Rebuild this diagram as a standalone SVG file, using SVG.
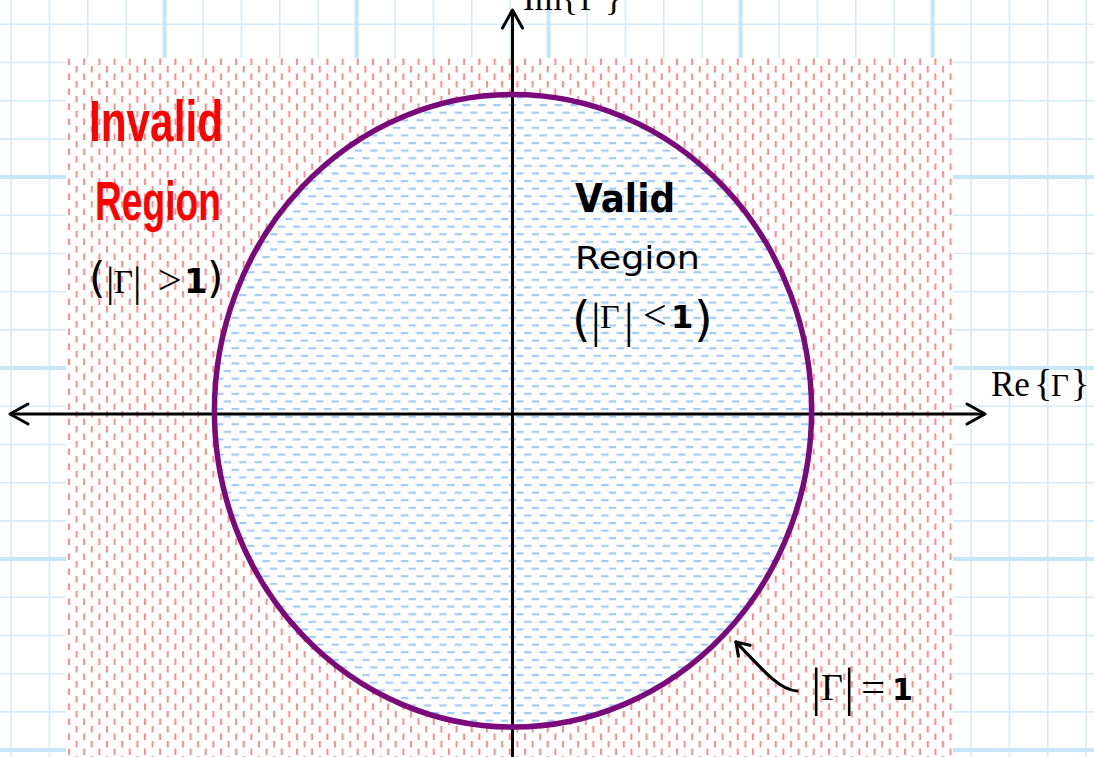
<svg xmlns="http://www.w3.org/2000/svg" width="1094" height="757" viewBox="0 0 1094 757">
<style>
.gthin{stroke:#d3ebfb;stroke-width:1.6;fill:none}
.gthick{stroke:#c8e6fa;stroke-width:4;fill:none}
.axis{stroke:#000;stroke-width:3;fill:none}
.serif{font-family:"Liberation Serif","Times New Roman",serif;fill:#000}
.sans{font-family:"DejaVu Sans","Liberation Sans",sans-serif;fill:#000}
.red{font-family:"Liberation Sans",Arial,sans-serif;font-weight:bold;fill:#ff0000}
</style>
<defs>
<pattern id="pinkDash" patternUnits="userSpaceOnUse" x="68" y="58" width="15.2" height="15">
<path d="M1 0.5 V7 M8.6 8 V14.5" stroke="#ff8c8c" stroke-width="2" fill="none"/>
</pattern>
<pattern id="blueDash" patternUnits="userSpaceOnUse" x="0" y="12.8" width="15.4" height="15.2">
<path d="M0.5 1 H8 M8.2 8.6 H15.4" stroke="#9ecbf5" stroke-width="2.2" fill="none"/>
</pattern>
<marker id="arrowOpen" markerUnits="userSpaceOnUse" viewBox="-22 -13 26 26" markerWidth="26" markerHeight="26" refX="0" refY="0" orient="auto-start-reverse">
<path d="M-18,-10 L0,0 L-18,10" stroke="#000" stroke-width="3" fill="none" stroke-linecap="round" stroke-linejoin="round"/>
</marker>
<marker id="arrowSmall" markerUnits="userSpaceOnUse" viewBox="-16 -11 20 22" markerWidth="20" markerHeight="22" refX="0" refY="0" orient="auto">
<path d="M-12,-8 L0,0 L-12,8" stroke="#000" stroke-width="3.2" fill="none" stroke-linecap="round" stroke-linejoin="round"/>
</marker>
</defs>

<rect width="1094" height="757" fill="#ffffff"/>

<g id="grid">
<path class="gthin" d="M11 0V757 M49.4 0V757 M87.8 0V757 M126.2 0V757 M203 0V757 M241.4 0V757 M279.8 0V757 M318.2 0V757 M395 0V757 M433.4 0V757 M471.8 0V757 M510.2 0V757 M587 0V757 M625.4 0V757 M663.8 0V757 M702.2 0V757 M779 0V757 M817.4 0V757 M855.8 0V757 M894.2 0V757 M971 0V757 M1009.4 0V757 M1047.8 0V757 M1086.2 0V757 M0 24.3H1094 M0 62.5H1094 M0 100.7H1094 M0 138.9H1094 M0 215.3H1094 M0 253.5H1094 M0 291.7H1094 M0 329.9H1094 M0 406.3H1094 M0 444.5H1094 M0 482.7H1094 M0 520.9H1094 M0 597.3H1094 M0 635.5H1094 M0 673.7H1094 M0 711.9H1094"/>
<path class="gthick" d="M164.6 0V757 M356.6 0V757 M548.6 0V757 M740.6 0V757 M932.6 0V757 M0 177.1H1094 M0 368.1H1094 M0 559.1H1094 M0 750.1H1094"/>
</g>

<g id="invalid-region">
<rect x="66" y="58" width="887" height="699" fill="#ffffff"/>
<rect x="66" y="58" width="887" height="699" fill="url(#pinkDash)"/>
</g>

<g id="valid-region">
<ellipse cx="513" cy="410.8" rx="298.6" ry="316.3" fill="#ffffff"/>
<ellipse cx="513" cy="410.8" rx="298.6" ry="316.3" fill="url(#blueDash)"/>
</g>

<g id="connectors">
<path class="axis" d="M10 414 H985" marker-start="url(#arrowOpen)" marker-end="url(#arrowOpen)"/>
<path class="axis" d="M512.5 757 V10" marker-end="url(#arrowOpen)"/>
<path d="M797 691 C781 690 768 676 736 642" stroke="#000" stroke-width="3.2" fill="none" stroke-linecap="round" marker-end="url(#arrowSmall)"/>
</g>

<g id="unit-circle">
<ellipse cx="513" cy="410.8" rx="298.6" ry="316.3" fill="none" stroke="#7a0a7c" stroke-width="5.5"/>
</g>

<g id="label-im">
<text class="serif" y="9.5"><tspan x="523" font-size="35">Im</tspan><tspan x="561" font-size="36">{</tspan><tspan x="580" font-size="32">Γ</tspan><tspan x="605" font-size="36">}</tspan></text>
</g>

<g id="label-re">
<text class="serif" y="396"><tspan x="991" font-size="35">Re</tspan><tspan x="1034" font-size="38">{</tspan><tspan x="1051" font-size="31">Γ</tspan><tspan x="1071" font-size="38">}</tspan></text>
</g>

<g id="label-invalid">
<text class="red" x="89" y="141" font-size="58" textLength="134" lengthAdjust="spacingAndGlyphs">Invalid</text>
<text class="red" x="95" y="220" font-size="56" textLength="126" lengthAdjust="spacingAndGlyphs">Region</text>
<text y="293"><tspan class="sans" x="89" y="293" font-size="42">(</tspan><tspan class="serif" x="106" y="296" font-size="42">|</tspan><tspan class="serif" x="114" y="293" font-size="33">Γ</tspan><tspan class="serif" x="133" y="296" font-size="42">|</tspan><tspan class="serif" x="158" y="294" font-size="42">&gt;</tspan><tspan class="sans" x="184" y="293" font-size="34" font-weight="bold">1</tspan><tspan class="sans" x="207" y="293" font-size="42">)</tspan></text>
</g>

<g id="label-valid">
<text class="sans" x="575" y="211.5" font-size="39" font-weight="bold" textLength="100" lengthAdjust="spacingAndGlyphs">Valid</text>
<text class="sans" x="575" y="269" font-size="32" textLength="125" lengthAdjust="spacingAndGlyphs">Region</text>
<text y="328"><tspan class="sans" x="572" y="336" font-size="48">(</tspan><tspan class="serif" x="591" y="337" font-size="48">|</tspan><tspan class="serif" x="600" y="328" font-size="34">Γ</tspan><tspan class="serif" x="624" y="337" font-size="48">|</tspan><tspan class="serif" x="643" y="329" font-size="42">&lt;</tspan><tspan class="sans" x="671" y="328" font-size="32" font-weight="bold">1</tspan><tspan class="sans" x="694" y="336" font-size="48">)</tspan></text>
</g>

<g id="label-unit">
<text y="700"><tspan class="serif" x="811" y="705" font-size="52">|</tspan><tspan class="serif" x="821" y="700" font-size="38">Γ</tspan><tspan class="serif" x="844" y="705" font-size="52">|</tspan><tspan class="serif" x="861" y="701" font-size="43">=</tspan><tspan class="sans" x="892" y="700" font-size="30" font-weight="bold">1</tspan></text>
</g>
</svg>
